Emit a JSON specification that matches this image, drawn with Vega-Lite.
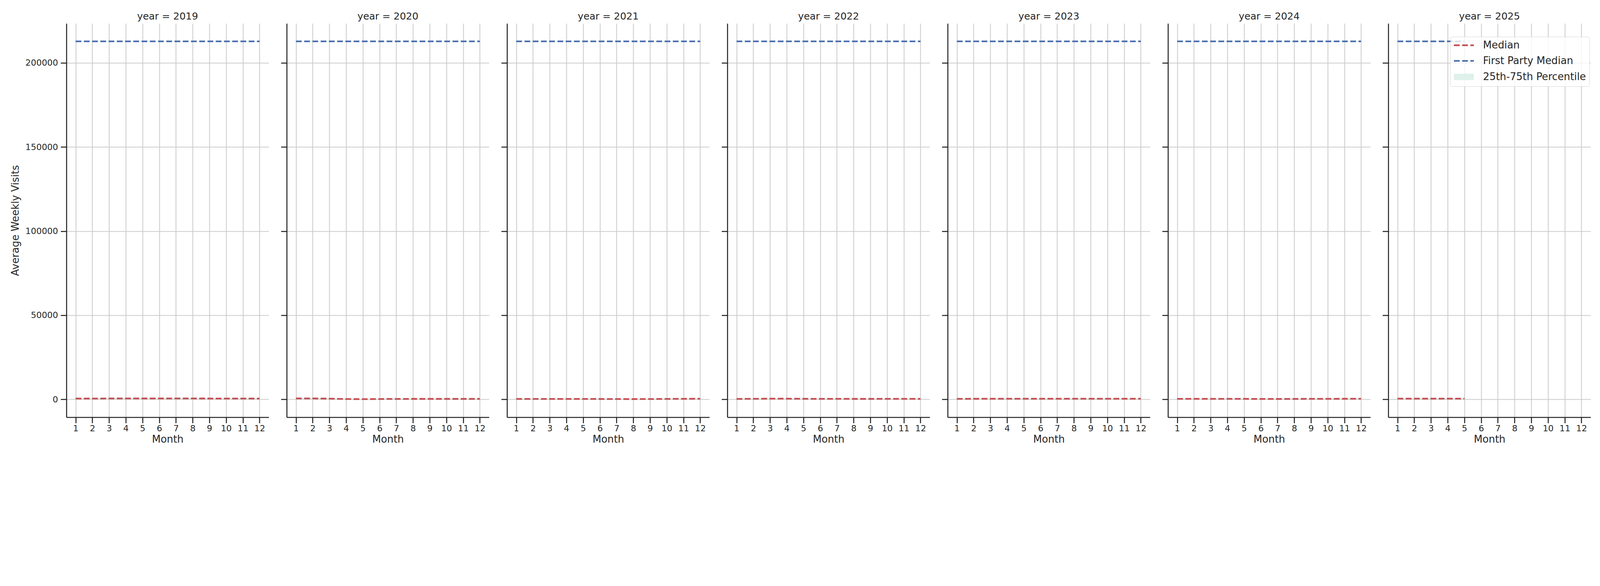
{
  "$schema": "https://vega.github.io/schema/vega-lite/v6.json",
  "description": "Average weekly visits by month, one panel per year",
  "background": "white",
  "padding": {"left": 26, "top": 30, "right": 5, "bottom": 5},
  "data": {
    "values": [
      {"year": 2019, "month": 1, "median": 480, "p25": 140, "p75": 880, "fp": 212800},
      {"year": 2019, "month": 2, "median": 480, "p25": 140, "p75": 880, "fp": 212800},
      {"year": 2019, "month": 3, "median": 520, "p25": 150, "p75": 940, "fp": 212800},
      {"year": 2019, "month": 4, "median": 540, "p25": 160, "p75": 980, "fp": 212800},
      {"year": 2019, "month": 5, "median": 545, "p25": 160, "p75": 990, "fp": 212800},
      {"year": 2019, "month": 6, "median": 545, "p25": 160, "p75": 990, "fp": 212800},
      {"year": 2019, "month": 7, "median": 540, "p25": 160, "p75": 980, "fp": 212800},
      {"year": 2019, "month": 8, "median": 530, "p25": 160, "p75": 960, "fp": 212800},
      {"year": 2019, "month": 9, "median": 500, "p25": 150, "p75": 900, "fp": 212800},
      {"year": 2019, "month": 10, "median": 480, "p25": 140, "p75": 870, "fp": 212800},
      {"year": 2019, "month": 11, "median": 480, "p25": 140, "p75": 870, "fp": 212800},
      {"year": 2019, "month": 12, "median": 480, "p25": 140, "p75": 870, "fp": 212800},
      {"year": 2020, "month": 1, "median": 545, "p25": 160, "p75": 990, "fp": 212800},
      {"year": 2020, "month": 2, "median": 545, "p25": 160, "p75": 990, "fp": 212800},
      {"year": 2020, "month": 3, "median": 430, "p25": 130, "p75": 780, "fp": 212800},
      {"year": 2020, "month": 4, "median": 180, "p25": 50, "p75": 330, "fp": 212800},
      {"year": 2020, "month": 5, "median": 130, "p25": 40, "p75": 240, "fp": 212800},
      {"year": 2020, "month": 6, "median": 200, "p25": 60, "p75": 360, "fp": 212800},
      {"year": 2020, "month": 7, "median": 260, "p25": 80, "p75": 470, "fp": 212800},
      {"year": 2020, "month": 8, "median": 270, "p25": 80, "p75": 490, "fp": 212800},
      {"year": 2020, "month": 9, "median": 280, "p25": 80, "p75": 510, "fp": 212800},
      {"year": 2020, "month": 10, "median": 280, "p25": 80, "p75": 510, "fp": 212800},
      {"year": 2020, "month": 11, "median": 280, "p25": 80, "p75": 510, "fp": 212800},
      {"year": 2020, "month": 12, "median": 280, "p25": 80, "p75": 510, "fp": 212800},
      {"year": 2021, "month": 1, "median": 260, "p25": 80, "p75": 470, "fp": 212800},
      {"year": 2021, "month": 2, "median": 250, "p25": 80, "p75": 450, "fp": 212800},
      {"year": 2021, "month": 3, "median": 250, "p25": 80, "p75": 450, "fp": 212800},
      {"year": 2021, "month": 4, "median": 260, "p25": 80, "p75": 470, "fp": 212800},
      {"year": 2021, "month": 5, "median": 250, "p25": 80, "p75": 450, "fp": 212800},
      {"year": 2021, "month": 6, "median": 220, "p25": 70, "p75": 400, "fp": 212800},
      {"year": 2021, "month": 7, "median": 170, "p25": 50, "p75": 310, "fp": 212800},
      {"year": 2021, "month": 8, "median": 160, "p25": 50, "p75": 290, "fp": 212800},
      {"year": 2021, "month": 9, "median": 190, "p25": 60, "p75": 340, "fp": 212800},
      {"year": 2021, "month": 10, "median": 260, "p25": 80, "p75": 470, "fp": 212800},
      {"year": 2021, "month": 11, "median": 320, "p25": 100, "p75": 580, "fp": 212800},
      {"year": 2021, "month": 12, "median": 360, "p25": 110, "p75": 650, "fp": 212800},
      {"year": 2022, "month": 1, "median": 250, "p25": 80, "p75": 450, "fp": 212800},
      {"year": 2022, "month": 2, "median": 320, "p25": 100, "p75": 580, "fp": 212800},
      {"year": 2022, "month": 3, "median": 420, "p25": 130, "p75": 760, "fp": 212800},
      {"year": 2022, "month": 4, "median": 400, "p25": 120, "p75": 720, "fp": 212800},
      {"year": 2022, "month": 5, "median": 330, "p25": 100, "p75": 600, "fp": 212800},
      {"year": 2022, "month": 6, "median": 300, "p25": 90, "p75": 540, "fp": 212800},
      {"year": 2022, "month": 7, "median": 290, "p25": 90, "p75": 520, "fp": 212800},
      {"year": 2022, "month": 8, "median": 280, "p25": 80, "p75": 500, "fp": 212800},
      {"year": 2022, "month": 9, "median": 280, "p25": 80, "p75": 500, "fp": 212800},
      {"year": 2022, "month": 10, "median": 290, "p25": 90, "p75": 520, "fp": 212800},
      {"year": 2022, "month": 11, "median": 300, "p25": 90, "p75": 540, "fp": 212800},
      {"year": 2022, "month": 12, "median": 310, "p25": 90, "p75": 560, "fp": 212800},
      {"year": 2023, "month": 1, "median": 320, "p25": 100, "p75": 580, "fp": 212800},
      {"year": 2023, "month": 2, "median": 330, "p25": 100, "p75": 600, "fp": 212800},
      {"year": 2023, "month": 3, "median": 350, "p25": 110, "p75": 630, "fp": 212800},
      {"year": 2023, "month": 4, "median": 360, "p25": 110, "p75": 650, "fp": 212800},
      {"year": 2023, "month": 5, "median": 360, "p25": 110, "p75": 650, "fp": 212800},
      {"year": 2023, "month": 6, "median": 350, "p25": 110, "p75": 630, "fp": 212800},
      {"year": 2023, "month": 7, "median": 350, "p25": 110, "p75": 630, "fp": 212800},
      {"year": 2023, "month": 8, "median": 350, "p25": 110, "p75": 630, "fp": 212800},
      {"year": 2023, "month": 9, "median": 340, "p25": 100, "p75": 610, "fp": 212800},
      {"year": 2023, "month": 10, "median": 340, "p25": 100, "p75": 610, "fp": 212800},
      {"year": 2023, "month": 11, "median": 340, "p25": 100, "p75": 610, "fp": 212800},
      {"year": 2023, "month": 12, "median": 340, "p25": 100, "p75": 610, "fp": 212800},
      {"year": 2024, "month": 1, "median": 320, "p25": 100, "p75": 580, "fp": 212800},
      {"year": 2024, "month": 2, "median": 320, "p25": 100, "p75": 580, "fp": 212800},
      {"year": 2024, "month": 3, "median": 310, "p25": 90, "p75": 560, "fp": 212800},
      {"year": 2024, "month": 4, "median": 300, "p25": 90, "p75": 540, "fp": 212800},
      {"year": 2024, "month": 5, "median": 290, "p25": 90, "p75": 520, "fp": 212800},
      {"year": 2024, "month": 6, "median": 230, "p25": 70, "p75": 410, "fp": 212800},
      {"year": 2024, "month": 7, "median": 220, "p25": 70, "p75": 400, "fp": 212800},
      {"year": 2024, "month": 8, "median": 260, "p25": 80, "p75": 470, "fp": 212800},
      {"year": 2024, "month": 9, "median": 300, "p25": 90, "p75": 540, "fp": 212800},
      {"year": 2024, "month": 10, "median": 320, "p25": 100, "p75": 580, "fp": 212800},
      {"year": 2024, "month": 11, "median": 330, "p25": 100, "p75": 600, "fp": 212800},
      {"year": 2024, "month": 12, "median": 380, "p25": 110, "p75": 680, "fp": 212800},
      {"year": 2025, "month": 1, "median": 420, "p25": 130, "p75": 760, "fp": 212800},
      {"year": 2025, "month": 2, "median": 420, "p25": 130, "p75": 760, "fp": 212800},
      {"year": 2025, "month": 3, "median": 420, "p25": 130, "p75": 760, "fp": 212800},
      {"year": 2025, "month": 4, "median": 420, "p25": 130, "p75": 760, "fp": 212800},
      {"year": 2025, "month": 5, "median": 420, "p25": 130, "p75": 760, "fp": 212800}
    ]
  },
  "spacing": 46,
  "bounds": "flush",
  "resolve": {"scale": {"x": "shared", "y": "shared", "color": "shared"}},
  "hconcat": [
    {
      "title": "year = 2019",
      "width": 518, "height": 1008,
      "transform": [{"filter": "datum.year == 2019"}],
      "encoding": {"x": {"field": "month", "type": "quantitative", "scale": {"domain": [0.45, 12.55], "nice": false}, "title": "Month", "axis": {"values": [1, 2, 3, 4, 5, 6, 7, 8, 9, 10, 11, 12]}}},
      "layer": [
        {"mark": {"type": "area"},
         "encoding": {
           "y": {"field": "p25", "type": "quantitative", "scale": {"domain": [-10640, 223440], "nice": false, "zero": false}, "title": "Average Weekly Visits", "axis": {"values": [0, 50000, 100000, 150000, 200000]}},
           "y2": {"field": "p75"},
           "color": {"datum": "25th-75th Percentile", "type": "nominal",
             "scale": {"domain": ["Median", "First Party Median", "25th-75th Percentile"], "range": ["#C44E52", "#4C72B0", "#dff1ea"]},
             "legend": {"title": null,
               "encode": {
                 "symbols": {"update": {
                   "shape": {"signal": "datum.value === '25th-75th Percentile' ? 'M-2.33,-0.6H2.33V0.6H-2.33Z' : 'M-2.55,0H2.55'"},
                   "fill": {"signal": "datum.value === '25th-75th Percentile' ? '#dff1ea' : 'transparent'"},
                   "strokeWidth": {"value": 4.3},
                   "strokeDash": {"signal": "datum.value === '25th-75th Percentile' ? [1, 0] : [14.8, 6.3]"},
                   "x": {"value": 25.5}
                 }},
                 "labels": {"update": {"x": {"value": 74.6}}}
               }}}}},
        {"mark": {"type": "line", "strokeDash": [14.8, 6.3], "strokeWidth": 4.3},
         "encoding": {"y": {"field": "median", "type": "quantitative", "title": "Average Weekly Visits", "axis": {"values": [0, 50000, 100000, 150000, 200000]}}, "color": {"datum": "Median", "type": "nominal"}}},
        {"mark": {"type": "line", "strokeDash": [14.8, 6.3], "strokeWidth": 4.3},
         "encoding": {"y": {"field": "fp", "type": "quantitative", "title": "Average Weekly Visits", "axis": {"values": [0, 50000, 100000, 150000, 200000]}}, "color": {"datum": "First Party Median", "type": "nominal"}}}
      ]
    },
    {
      "title": "year = 2020",
      "width": 518, "height": 1008,
      "transform": [{"filter": "datum.year == 2020"}],
      "encoding": {"x": {"field": "month", "type": "quantitative", "scale": {"domain": [0.45, 12.55], "nice": false}, "title": "Month", "axis": {"values": [1, 2, 3, 4, 5, 6, 7, 8, 9, 10, 11, 12]}}},
      "layer": [
        {"mark": {"type": "area"},
         "encoding": {
           "y": {"field": "p25", "type": "quantitative", "scale": {"domain": [-10640, 223440], "nice": false, "zero": false}, "axis": {"labels": false, "title": null, "values": [0, 50000, 100000, 150000, 200000]}},
           "y2": {"field": "p75"},
           "color": {"datum": "25th-75th Percentile", "type": "nominal"}}},
        {"mark": {"type": "line", "strokeDash": [14.8, 6.3], "strokeWidth": 4.3},
         "encoding": {"y": {"field": "median", "type": "quantitative", "axis": {"labels": false, "title": null, "values": [0, 50000, 100000, 150000, 200000]}}, "color": {"datum": "Median", "type": "nominal"}}},
        {"mark": {"type": "line", "strokeDash": [14.8, 6.3], "strokeWidth": 4.3},
         "encoding": {"y": {"field": "fp", "type": "quantitative", "axis": {"labels": false, "title": null, "values": [0, 50000, 100000, 150000, 200000]}}, "color": {"datum": "First Party Median", "type": "nominal"}}}
      ]
    },
    {
      "title": "year = 2021",
      "width": 518, "height": 1008,
      "transform": [{"filter": "datum.year == 2021"}],
      "encoding": {"x": {"field": "month", "type": "quantitative", "scale": {"domain": [0.45, 12.55], "nice": false}, "title": "Month", "axis": {"values": [1, 2, 3, 4, 5, 6, 7, 8, 9, 10, 11, 12]}}},
      "layer": [
        {"mark": {"type": "area"},
         "encoding": {
           "y": {"field": "p25", "type": "quantitative", "scale": {"domain": [-10640, 223440], "nice": false, "zero": false}, "axis": {"labels": false, "title": null, "values": [0, 50000, 100000, 150000, 200000]}},
           "y2": {"field": "p75"},
           "color": {"datum": "25th-75th Percentile", "type": "nominal"}}},
        {"mark": {"type": "line", "strokeDash": [14.8, 6.3], "strokeWidth": 4.3},
         "encoding": {"y": {"field": "median", "type": "quantitative", "axis": {"labels": false, "title": null, "values": [0, 50000, 100000, 150000, 200000]}}, "color": {"datum": "Median", "type": "nominal"}}},
        {"mark": {"type": "line", "strokeDash": [14.8, 6.3], "strokeWidth": 4.3},
         "encoding": {"y": {"field": "fp", "type": "quantitative", "axis": {"labels": false, "title": null, "values": [0, 50000, 100000, 150000, 200000]}}, "color": {"datum": "First Party Median", "type": "nominal"}}}
      ]
    },
    {
      "title": "year = 2022",
      "width": 518, "height": 1008,
      "transform": [{"filter": "datum.year == 2022"}],
      "encoding": {"x": {"field": "month", "type": "quantitative", "scale": {"domain": [0.45, 12.55], "nice": false}, "title": "Month", "axis": {"values": [1, 2, 3, 4, 5, 6, 7, 8, 9, 10, 11, 12]}}},
      "layer": [
        {"mark": {"type": "area"},
         "encoding": {
           "y": {"field": "p25", "type": "quantitative", "scale": {"domain": [-10640, 223440], "nice": false, "zero": false}, "axis": {"labels": false, "title": null, "values": [0, 50000, 100000, 150000, 200000]}},
           "y2": {"field": "p75"},
           "color": {"datum": "25th-75th Percentile", "type": "nominal"}}},
        {"mark": {"type": "line", "strokeDash": [14.8, 6.3], "strokeWidth": 4.3},
         "encoding": {"y": {"field": "median", "type": "quantitative", "axis": {"labels": false, "title": null, "values": [0, 50000, 100000, 150000, 200000]}}, "color": {"datum": "Median", "type": "nominal"}}},
        {"mark": {"type": "line", "strokeDash": [14.8, 6.3], "strokeWidth": 4.3},
         "encoding": {"y": {"field": "fp", "type": "quantitative", "axis": {"labels": false, "title": null, "values": [0, 50000, 100000, 150000, 200000]}}, "color": {"datum": "First Party Median", "type": "nominal"}}}
      ]
    },
    {
      "title": "year = 2023",
      "width": 518, "height": 1008,
      "transform": [{"filter": "datum.year == 2023"}],
      "encoding": {"x": {"field": "month", "type": "quantitative", "scale": {"domain": [0.45, 12.55], "nice": false}, "title": "Month", "axis": {"values": [1, 2, 3, 4, 5, 6, 7, 8, 9, 10, 11, 12]}}},
      "layer": [
        {"mark": {"type": "area"},
         "encoding": {
           "y": {"field": "p25", "type": "quantitative", "scale": {"domain": [-10640, 223440], "nice": false, "zero": false}, "axis": {"labels": false, "title": null, "values": [0, 50000, 100000, 150000, 200000]}},
           "y2": {"field": "p75"},
           "color": {"datum": "25th-75th Percentile", "type": "nominal"}}},
        {"mark": {"type": "line", "strokeDash": [14.8, 6.3], "strokeWidth": 4.3},
         "encoding": {"y": {"field": "median", "type": "quantitative", "axis": {"labels": false, "title": null, "values": [0, 50000, 100000, 150000, 200000]}}, "color": {"datum": "Median", "type": "nominal"}}},
        {"mark": {"type": "line", "strokeDash": [14.8, 6.3], "strokeWidth": 4.3},
         "encoding": {"y": {"field": "fp", "type": "quantitative", "axis": {"labels": false, "title": null, "values": [0, 50000, 100000, 150000, 200000]}}, "color": {"datum": "First Party Median", "type": "nominal"}}}
      ]
    },
    {
      "title": "year = 2024",
      "width": 518, "height": 1008,
      "transform": [{"filter": "datum.year == 2024"}],
      "encoding": {"x": {"field": "month", "type": "quantitative", "scale": {"domain": [0.45, 12.55], "nice": false}, "title": "Month", "axis": {"values": [1, 2, 3, 4, 5, 6, 7, 8, 9, 10, 11, 12]}}},
      "layer": [
        {"mark": {"type": "area"},
         "encoding": {
           "y": {"field": "p25", "type": "quantitative", "scale": {"domain": [-10640, 223440], "nice": false, "zero": false}, "axis": {"labels": false, "title": null, "values": [0, 50000, 100000, 150000, 200000]}},
           "y2": {"field": "p75"},
           "color": {"datum": "25th-75th Percentile", "type": "nominal"}}},
        {"mark": {"type": "line", "strokeDash": [14.8, 6.3], "strokeWidth": 4.3},
         "encoding": {"y": {"field": "median", "type": "quantitative", "axis": {"labels": false, "title": null, "values": [0, 50000, 100000, 150000, 200000]}}, "color": {"datum": "Median", "type": "nominal"}}},
        {"mark": {"type": "line", "strokeDash": [14.8, 6.3], "strokeWidth": 4.3},
         "encoding": {"y": {"field": "fp", "type": "quantitative", "axis": {"labels": false, "title": null, "values": [0, 50000, 100000, 150000, 200000]}}, "color": {"datum": "First Party Median", "type": "nominal"}}}
      ]
    },
    {
      "title": "year = 2025",
      "width": 518, "height": 1008,
      "transform": [{"filter": "datum.year == 2025"}],
      "encoding": {"x": {"field": "month", "type": "quantitative", "scale": {"domain": [0.45, 12.55], "nice": false}, "title": "Month", "axis": {"values": [1, 2, 3, 4, 5, 6, 7, 8, 9, 10, 11, 12]}}},
      "layer": [
        {"mark": {"type": "area"},
         "encoding": {
           "y": {"field": "p25", "type": "quantitative", "scale": {"domain": [-10640, 223440], "nice": false, "zero": false}, "axis": {"labels": false, "title": null, "values": [0, 50000, 100000, 150000, 200000]}},
           "y2": {"field": "p75"},
           "color": {"datum": "25th-75th Percentile", "type": "nominal"}}},
        {"mark": {"type": "line", "strokeDash": [14.8, 6.3], "strokeWidth": 4.3},
         "encoding": {"y": {"field": "median", "type": "quantitative", "axis": {"labels": false, "title": null, "values": [0, 50000, 100000, 150000, 200000]}}, "color": {"datum": "Median", "type": "nominal"}}},
        {"mark": {"type": "line", "strokeDash": [14.8, 6.3], "strokeWidth": 4.3},
         "encoding": {"y": {"field": "fp", "type": "quantitative", "axis": {"labels": false, "title": null, "values": [0, 50000, 100000, 150000, 200000]}}, "color": {"datum": "First Party Median", "type": "nominal"}}}
      ]
    }
  ],
  "config": {
    "font": "DejaVu Sans",
    "view": {"stroke": null},
    "axis": {
      "domainColor": "#262626", "domainWidth": 2.6,
      "tickColor": "#262626", "tickWidth": 2.6, "tickSize": 14.8,
      "gridColor": "#cccccc", "gridWidth": 2.1,
      "labelFontSize": 21.9, "labelColor": "#262626",
      "titleFontSize": 25.8, "titleFontWeight": "normal", "titleColor": "#262626"
    },
    "axisX": {"format": "d", "labelPadding": 4, "titlePadding": 5, "labelFlush": false},
    "axisY": {"format": "d", "labelPadding": 7, "titlePadding": 12.6},
    "title": {"fontSize": 25, "fontWeight": "normal", "color": "#262626", "offset": 5, "anchor": "middle", "frame": "group"},
    "legend": {
      "orient": "none", "legendX": 3543, "legendY": 34,
      "fillColor": "rgba(255,255,255,0.8)", "strokeColor": "#d6d6d6", "cornerRadius": 5, "padding": 9,
      "labelFontSize": 25.8, "labelColor": "#262626", "labelOffset": 20, "rowPadding": 13,
      "symbolType": "stroke", "symbolSize": 400, "symbolStrokeWidth": 4.3,
      "labelLimit": 600,
      "symbolOpacity": 1
    }
  }
}
